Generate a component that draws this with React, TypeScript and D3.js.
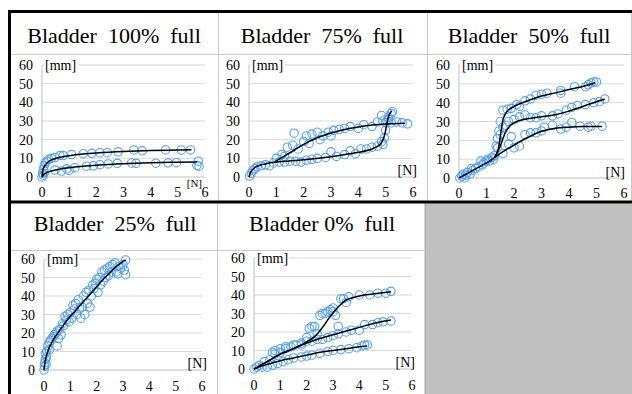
import React from 'react';
import * as d3 from 'd3';

type Pt = [number, number];

const xTicks = [0, 1, 2, 3, 4, 5, 6];
const yTicks = [0, 10, 20, 30, 40, 50, 60];
const titles = ['Bladder  100%  full', 'Bladder  75%  full', 'Bladder  50%  full', 'Bladder  25%  full', 'Bladder 0%  full'];

// 100% full
const p100Upper: Pt[] = [[0.02, 2], [0.05, 4], [0.08, 6], [0.12, 7.5], [0.18, 8.5], [0.25, 9.5], [0.35, 10], [0.48, 10.5], [0.66, 11.5], [0.78, 11.5], [1.09, 12], [1.52, 12.5], [1.83, 12.7], [2.13, 13], [2.4, 13], [2.8, 13.5], [3.38, 14.5], [3.69, 14], [4.55, 14.5], [5.13, 14.5], [5.47, 14.5]];
const p100Lower: Pt[] = [[0, 0], [0.05, 1], [0.11, 2.8], [0.48, 3.7], [0.72, 3.2], [0.91, 4.4], [1.0, 3.5], [1.21, 5], [1.64, 5.8], [1.89, 6], [2.13, 6.6], [2.44, 7], [2.77, 7.3], [3.3, 7.5], [3.46, 7.3], [4.19, 7.4], [4.64, 7.6], [4.95, 7.7], [5.75, 8.5], [5.78, 5.8], [5.7, 6.2]];
const f100Upper: Pt[] = [[0, 0], [0.05, 4.5], [0.15, 7], [0.3, 8.8], [0.6, 10.3], [1, 11.4], [1.5, 12.3], [2, 12.9], [3, 13.7], [4, 14.2], [5.5, 14.6]];
const f100Lower: Pt[] = [[0, 0], [0.1, 1.8], [0.3, 3], [0.6, 4], [1, 4.9], [1.5, 5.7], [2, 6.3], [3, 7.1], [4, 7.6], [5.7, 8.1]];

// 75% full
const p75Lower: Pt[] = [[0.02, 0.5], [0.08, 2], [0.15, 3.5], [0.22, 4.5], [0.3, 5.5], [0.45, 6], [0.6, 6.5], [0.75, 6], [0.9, 7.5], [1.1, 8], [1.3, 8], [1.5, 8.5], [1.7, 8.5], [1.9, 8], [2.1, 9], [2.3, 9.5], [2.5, 10], [2.8, 10.5], [3.0, 13.5], [3.2, 11], [3.5, 12], [3.7, 14], [3.9, 12.5], [4.1, 15], [4.3, 15], [4.5, 16], [4.7, 16.5], [4.85, 19], [4.9, 17.5], [4.95, 21], [5.0, 25], [5.05, 30], [5.1, 32], [5.2, 34], [5.25, 35]];
const p75Upper: Pt[] = [[1.0, 10], [1.2, 12], [1.3, 11], [1.4, 16], [1.6, 17], [1.65, 23.5], [1.8, 15], [2.0, 19], [2.1, 22], [2.2, 18], [2.3, 23], [2.5, 24], [2.6, 20], [2.7, 22], [2.9, 24], [3.0, 22], [3.1, 25], [3.3, 25.5], [3.5, 26], [3.7, 27], [4.0, 26], [4.2, 28], [4.5, 27], [4.7, 29.5], [4.85, 33], [4.9, 30], [5.0, 29], [5.1, 31], [5.2, 29], [5.4, 29.5], [5.6, 29], [5.8, 28.5]];
const f75Lower: Pt[] = [[0, 0], [0.1, 3.5], [0.3, 5.8], [0.6, 7], [1, 8], [2, 9.3], [3, 10.9], [4, 13.2], [4.5, 15], [4.8, 17.5], [4.95, 22], [5.05, 29], [5.12, 33], [5.22, 35.5]];
const f75Upper: Pt[] = [[0.95, 8.2], [1.5, 13], [2, 17.5], [2.5, 21], [3, 23.6], [3.5, 25.5], [4, 26.8], [4.5, 27.8], [5, 28.4], [5.7, 28.8]];

// 50% full
const p50Start: Pt[] = [[0.03, 0], [0.1, 1], [0.15, 2], [0.2, 0], [0.25, 1.5], [0.3, 3], [0.4, 2], [0.45, 5], [0.5, 4], [0.6, 5], [0.7, 6], [0.8, 9], [0.85, 7], [0.9, 8], [1.0, 9], [1.05, 10], [1.1, 9], [1.2, 11], [1.25, 10], [1.3, 12], [1.35, 17], [1.4, 21], [1.45, 25]];
const p50Top: Pt[] = [[1.5, 30], [1.6, 36], [1.75, 36.5], [1.9, 37], [2.1, 39], [2.2, 38], [2.4, 41], [2.6, 42], [2.8, 44], [3.0, 44.5], [3.2, 45], [3.7, 46.5], [3.7, 45], [4.2, 48.5], [4.6, 48.5], [4.7, 49.5], [4.8, 50.5], [4.9, 51], [5.0, 51]];
const p50Mid: Pt[] = [[1.5, 23], [1.6, 27], [1.7, 28], [1.8, 30], [2.0, 31], [2.2, 32.5], [2.4, 33.5], [2.6, 32], [2.8, 32], [3.0, 33], [3.4, 33], [3.6, 34], [3.9, 36], [4.1, 37.5], [4.3, 38.5], [4.6, 39], [4.9, 40], [5.1, 40.5], [5.3, 42]];
const p50Low: Pt[] = [[1.4, 16], [1.6, 13], [1.8, 18], [1.9, 22], [2.0, 16], [2.2, 17], [2.4, 23], [2.6, 24], [2.8, 24], [3.0, 25], [3.1, 27], [3.4, 28], [3.7, 26], [3.9, 27], [4.1, 29.5], [4.4, 27.5], [4.7, 27], [4.8, 27.5], [5.2, 27.5]];
const f50Top: Pt[] = [[0, 0], [0.5, 4], [1, 8], [1.3, 11], [1.42, 15], [1.52, 24], [1.62, 32], [1.75, 35.5], [2, 38], [2.5, 41], [3, 43.5], [3.5, 45.2], [4, 47], [4.5, 48.6], [4.95, 50.6]];
const f50Mid: Pt[] = [[1.3, 11], [1.5, 17], [1.7, 24.5], [1.9, 28.3], [2.2, 30.5], [2.5, 31.5], [3, 32.5], [3.5, 33.6], [4, 35.5], [4.5, 38], [5, 40.5], [5.3, 41.8]];
const f50Low: Pt[] = [[1.3, 11], [1.6, 14], [2, 17.5], [2.5, 21.5], [3, 24.8], [3.5, 26.4], [4, 27], [4.5, 27.3], [5.2, 27.3]];

// 25% full
const p25: Pt[] = [[0, 0], [0.02, 2], [0.03, 4], [0.05, 6], [0.05, 9], [0.08, 3], [0.1, 10], [0.1, 7], [0.15, 13], [0.2, 15], [0.2, 11], [0.25, 16], [0.3, 17], [0.35, 18], [0.4, 19], [0.45, 20], [0.5, 13], [0.5, 21], [0.55, 17], [0.6, 22], [0.65, 19], [0.7, 25], [0.75, 24], [0.8, 29], [0.85, 27], [0.9, 30], [0.95, 26], [1.0, 31], [1.05, 28], [1.1, 35], [1.15, 33], [1.2, 36], [1.25, 30], [1.3, 38], [1.35, 33], [1.4, 28], [1.45, 34], [1.5, 40], [1.55, 30], [1.6, 42], [1.65, 36], [1.7, 43], [1.75, 34], [1.8, 40], [1.85, 46], [1.9, 44], [1.95, 47], [2.0, 49], [2.05, 42], [2.1, 50], [2.15, 46], [2.2, 53], [2.25, 48], [2.3, 54], [2.35, 50], [2.4, 55], [2.45, 51], [2.5, 56], [2.55, 53], [2.6, 57], [2.7, 58], [2.75, 53], [2.8, 52], [2.85, 56], [2.9, 55], [3.0, 57], [3.05, 54], [3.1, 59.5], [3.1, 51.5]];
const f25: Pt[] = [[0, 0], [0.05, 5], [0.1, 8], [0.2, 12], [0.3, 15], [0.5, 19.5], [0.75, 24.5], [1, 29], [1.25, 33], [1.5, 37], [1.75, 41], [2, 45], [2.25, 49], [2.5, 52.5], [2.75, 56], [3.1, 59.5]];

// 0% full
const p0Low: Pt[] = [[0, 0], [0.1, 1], [0.3, 1], [0.5, 1], [0.7, 2], [0.9, 3], [1.1, 4], [1.3, 5], [1.5, 6], [1.8, 6.5], [2.0, 7], [2.2, 7.5], [2.5, 8.5], [2.8, 9.5], [3.0, 10], [3.3, 10.5], [3.6, 11], [3.9, 11.5], [4.1, 12.5], [4.2, 13], [4.3, 13]];
const p0Mid: Pt[] = [[0.2, 2], [0.4, 4], [0.6, 5], [0.8, 8], [1.0, 9], [1.2, 11], [1.4, 12], [1.6, 13], [1.8, 13], [2.0, 15], [2.2, 15], [2.4, 16], [2.6, 16], [2.8, 17], [3.0, 18], [3.2, 19], [3.5, 20], [3.7, 21], [4.0, 21], [4.2, 24], [4.5, 24], [4.7, 25], [4.9, 25.5], [5.2, 26]];
const p0Top: Pt[] = [[0.7, 9], [0.8, 10], [1.0, 11], [1.2, 12], [1.5, 13], [1.8, 14], [2.0, 17], [2.1, 22], [2.2, 23], [2.3, 23], [2.4, 19], [2.5, 29], [2.6, 30], [2.7, 30], [2.8, 31], [2.9, 32], [3.0, 31], [3.1, 29], [3.2, 23], [3.0, 33], [3.3, 38], [3.4, 38], [3.5, 36], [3.6, 39], [4.0, 40], [4.4, 40], [4.7, 41], [5.0, 41], [5.2, 42]];
const f0Low: Pt[] = [[0, 0], [0.5, 2.5], [1, 4.5], [1.5, 6], [2, 7.5], [2.5, 9], [3, 10], [3.5, 11], [4, 12], [4.3, 12.5]];
const f0Mid: Pt[] = [[0, 0], [0.5, 4], [1, 8], [1.5, 11], [2, 14], [2.5, 16.5], [3, 18.5], [3.5, 20.5], [4, 22.5], [4.5, 24.5], [5.2, 26.5]];
const f0Top: Pt[] = [[0, 0], [0.5, 4], [1, 8], [1.5, 11], [1.9, 13.8], [2.3, 17.5], [2.6, 22.5], [2.9, 28.5], [3.2, 33.5], [3.5, 37.3], [4, 39.5], [4.5, 40.5], [5.2, 41.8]];

interface Panel {
  title: string;
  pts: Pt[][];
  fits: Pt[][];
  cx: number; // title centre
  ty: number; // title baseline
  x0: number; x6: number; y0: number; y60: number;
  nx: number; ny: number; nSize: number;
}

const panels: Panel[] = [
  { title: titles[0], pts: [p100Upper, p100Lower], fits: [f100Upper, f100Lower], cx: 114, ty: 43, x0: 42, x6: 205, y0: 177, y60: 65, nx: 202, ny: 187, nSize: 11 },
  { title: titles[1], pts: [p75Lower, p75Upper], fits: [f75Lower, f75Upper], cx: 322, ty: 43, x0: 249, x6: 413, y0: 177, y60: 65, nx: 417, ny: 175, nSize: 14 },
  { title: titles[2], pts: [p50Start, p50Top, p50Mid, p50Low], fits: [f50Top, f50Mid, f50Low], cx: 529, ty: 43, x0: 459, x6: 624, y0: 178, y60: 65, nx: 625, ny: 177, nSize: 14 },
  { title: titles[3], pts: [p25], fits: [f25], cx: 115, ty: 231, x0: 44, x6: 202, y0: 370, y60: 259, nx: 207, ny: 368, nSize: 14 },
  { title: titles[4], pts: [p0Low, p0Mid, p0Top], fits: [f0Low, f0Mid, f0Top], cx: 322, ty: 231, x0: 254, x6: 412, y0: 369, y60: 258, nx: 415, ny: 367, nSize: 14 },
];

const serif = '"Liberation Serif", "Times New Roman", serif';
const blue = '#55A0EC';

function Chart({ p, row }: { p: Panel; row: number }) {
  const x = d3.scaleLinear().domain([0, 6]).range([p.x0, p.x6]);
  const y = d3.scaleLinear().domain([0, 60]).range([p.y0, p.y60]);
  const line = d3.line<Pt>().x(d => x(d[0])).y(d => y(d[1])).curve(d3.curveCatmullRom.alpha(0.5));
  const tickDy = row === 0 ? 20 : 21;
  return (
    <g>
      <text x={p.cx} y={p.ty} textAnchor="middle" fontFamily={serif} fontSize={22} style={{ whiteSpace: 'pre' }}>{p.title}</text>
      {yTicks.filter(t => t > 0).map(t => (
        <line key={t} x1={x(0)} x2={x(6)} y1={y(t)} y2={y(t)} stroke="#d9d9d9" strokeWidth={1} />
      ))}
      <line x1={x(0)} x2={x(6)} y1={y(0)} y2={y(0)} stroke="#bfbfbf" strokeWidth={1} />
      <line x1={x(0)} x2={x(0)} y1={y(0)} y2={y(60)} stroke="#bfbfbf" strokeWidth={1} />
      {yTicks.map(t => (
        <text key={t} x={x(0) - 9} y={y(t) + 5} textAnchor="end" fontFamily={serif} fontSize={14}>{t}</text>
      ))}
      {xTicks.map(t => (
        <text key={t} x={x(t)} y={y(0) + tickDy} textAnchor="middle" fontFamily={serif} fontSize={14}>{t}</text>
      ))}
      <rect x={x(0) + 2} y={y(60) - 6} width={34} height={12} fill="#fff" />
      <text x={x(0) + 3} y={y(60) + 5} fontFamily={serif} fontSize={14}>[mm]</text>
      <text x={p.nx} y={p.ny} textAnchor="end" fontFamily={serif} fontSize={p.nSize}>[N]</text>
      {p.pts.map((s, i) => s.map((d, j) => (
        <circle key={i + '-' + j} cx={x(d[0])} cy={y(d[1])} r={4.2} fill="none" stroke={blue} strokeWidth={1.1} />
      )))}
      {p.fits.map((f, i) => (
        <path key={i} d={line(f) || ''} fill="none" stroke="#000" strokeWidth={1.5} />
      ))}
    </g>
  );
}

export default function App() {
  return (
    <svg width={632} height={394} style={{ position: 'absolute', left: 0, top: 0, background: '#fff' }}>
      <rect x={425} y={203.5} width={207} height={191} fill="#c0c0c0" />
      <line x1={425} x2={425} y1={203.5} y2={394} stroke="#a6a6a6" />
      <line x1={11} x2={632} y1={54.5} y2={54.5} stroke="#c8c8c8" />
      <line x1={11} x2={425} y1={250.5} y2={250.5} stroke="#c8c8c8" />
      <line x1={218.5} x2={218.5} y1={13} y2={201} stroke="#c8c8c8" />
      <line x1={427.5} x2={427.5} y1={13} y2={201} stroke="#c8c8c8" />
      <line x1={217.5} x2={217.5} y1={203} y2={394} stroke="#c8c8c8" />
      <line x1={631.5} x2={631.5} y1={13} y2={201} stroke="#c8c8c8" />
      {panels.map((p, i) => <Chart key={i} p={p} row={i < 3 ? 0 : 1} />)}
      <line x1={8} x2={632} y1={11.5} y2={11.5} stroke="#000" strokeWidth={3} />
      <line x1={8} x2={632} y1={202} y2={202} stroke="#000" strokeWidth={3} />
      <line x1={9.5} x2={9.5} y1={10} y2={394} stroke="#000" strokeWidth={3} />
    </svg>
  );
}
